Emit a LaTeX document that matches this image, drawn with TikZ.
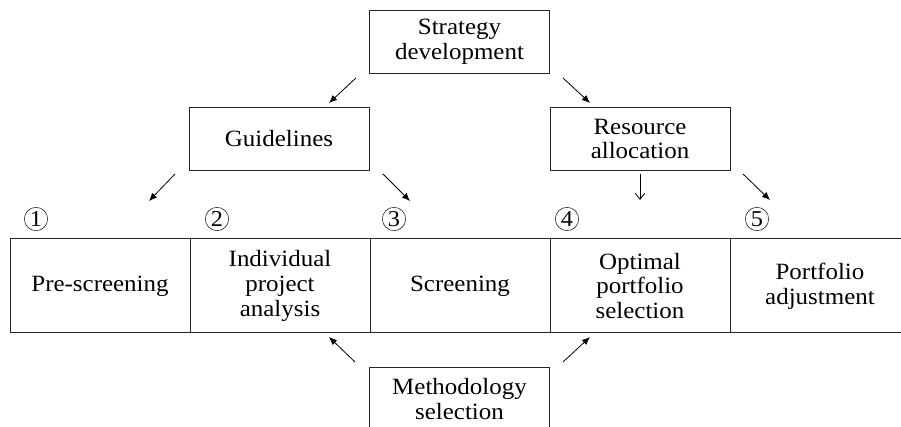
\documentclass[tikz,border=0pt]{standalone}
\usepackage{fontspec}
\setmainfont[FakeStretch=1.07]{Liberation Serif}
\usetikzlibrary{arrows.meta}

\tikzset{
  box/.style={draw=black!85, line width=0.75pt, minimum width=135pt, minimum height=47.5pt,
    align=center, inner sep=0pt, font=\fontsize{17.5}{18.5}\selectfont},
  cell/.style={box, minimum height=70.5pt},
  num/.style={circle, draw=black!85, line width=0.45pt, minimum size=17.5pt, inner sep=0pt,
    font=\fontsize{17}{17}\selectfont},
  arr/.style={-{Latex[length=6pt,width=5pt]}, line width=0.6pt},
  varr/.style={-{Straight Barb[length=4.5pt,width=7pt]}, line width=0.6pt},
}

\begin{document}
\begin{tikzpicture}[x=0.75pt, y=-0.75pt]

\clip (0,0) rectangle (901,427);

% top boxes
\node [box] (strat) at (459.5, 42) {Strategy\\development};
\node [box] (guide) at (279, 139) {Guidelines};
\node [box] (resal) at (640, 139) {Resource\\allocation};

% main row
\node [cell] (pre) at (100, 286) {Pre-screening};
\node [cell] (ipa) at (280, 286) {Individual\\project\\analysis};
\node [cell] (scr) at (460, 286) {Screening};
\node [cell] (ops) at (640, 286) {Optimal\\portfolio\\selection};
\node [cell] (adj) at (820, 286) {Portfolio\\adjustment};

% bottom box
\node [box] (meth) at (459.5, 399) {Methodology\\selection};

% step numbers
\node [num] (n1) at ( 36, 219) {1};
\node [num] (n2) at (217, 219) {2};
\node [num] (n3) at (394, 219) {3};
\node [num] (n4) at (567, 219) {4};
\node [num] (n5) at (757, 219) {5};

% arrow ends
\coordinate (sg1) at (356, 78);  \coordinate (sg2) at (329, 103);
\coordinate (sr1) at (563, 78);  \coordinate (sr2) at (590, 103);
\coordinate (ga1) at (175, 174); \coordinate (ga2) at (149, 201);
\coordinate (gb1) at (383, 174); \coordinate (gb2) at (410, 201);
\coordinate (ra1) at (640, 174); \coordinate (ra2) at (640, 200);
\coordinate (rb1) at (743, 174); \coordinate (rb2) at (770, 200);
\coordinate (ma1) at (355, 362); \coordinate (ma2) at (329, 337);
\coordinate (mb1) at (563, 362); \coordinate (mb2) at (590, 337);

\draw [arr] (sg1) -- (sg2);
\draw [arr] (sr1) -- (sr2);
\draw [arr] (ga1) -- (ga2);
\draw [arr] (gb1) -- (gb2);
\draw [varr] (ra1) -- (ra2);
\draw [arr] (rb1) -- (rb2);
\draw [arr] (ma1) -- (ma2);
\draw [arr] (mb1) -- (mb2);

\end{tikzpicture}
\end{document}
